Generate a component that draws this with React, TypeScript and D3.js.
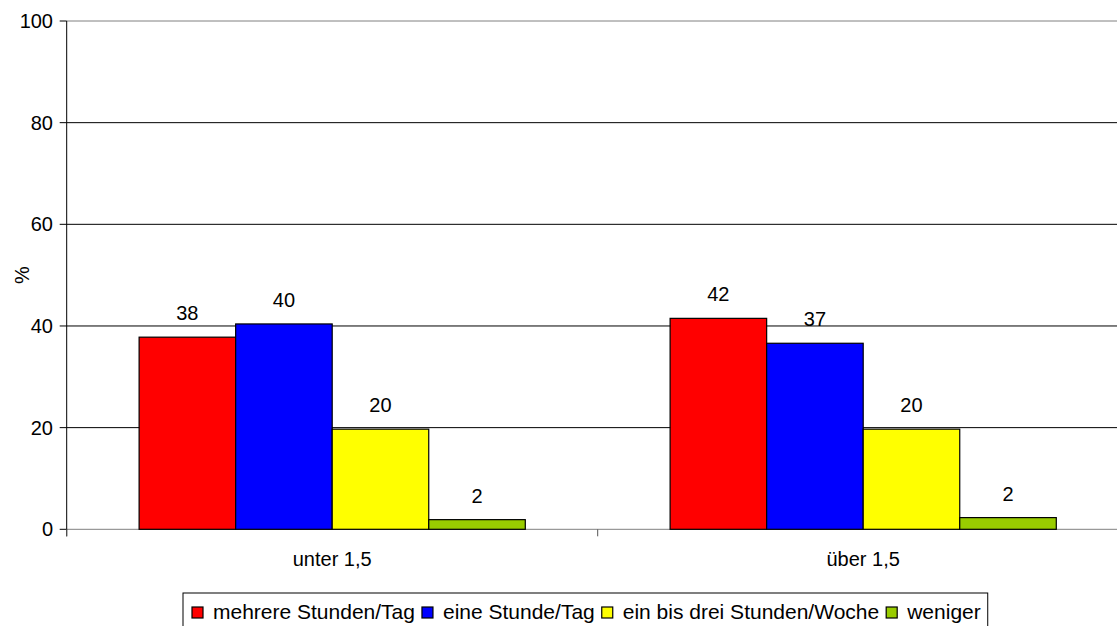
import React from "react";
import * as d3 from "d3";

const categories = ["unter 1,5", "über 1,5"];
const seriesNames = [
  "mehrere Stunden/Tag",
  "eine Stunde/Tag",
  "ein bis drei Stunden/Woche",
  "weniger",
];
const seriesColors = ["#FF0000", "#0000FF", "#FFFF00", "#99CC00"];
const valuesUnter = [37.8, 40.4, 19.7, 1.9];
const valuesUeber = [41.5, 36.6, 19.7, 2.3];
const labelsUnter = ["38", "40", "20", "2"];
const labelsUeber = ["42", "37", "20", "2"];
const yTicks = [0, 20, 40, 60, 80, 100];

const W = 1117;
const H = 626;
const FONT = "'Liberation Sans', Arial, sans-serif";

export default function App() {
  const left = 66.7;
  const top = 21;
  const bottom = 529.3;
  const y = d3.scaleLinear().domain([0, 100]).range([bottom, top]);
  const x = d3.scaleBand().domain(categories).range([left, left + 2 * 531]).paddingInner(0).paddingOuter(0);
  const xs = d3
    .scaleBand()
    .domain(seriesNames)
    .range([0, x.bandwidth()])
    .paddingInner(0)
    .paddingOuter(0.75);

  const data = [
    { cat: categories[0], vals: valuesUnter, labels: labelsUnter },
    { cat: categories[1], vals: valuesUeber, labels: labelsUeber },
  ];

  const legendX = 183;
  const legendY = 593;
  const legendFont = 21;
  const measure = (s: string) => {
    const c = document.createElement("canvas").getContext("2d")!;
    c.font = `${legendFont}px ${FONT}`;
    return c.measureText(s).width;
  };
  let cx = legendX + 9;
  const legendItems = seriesNames.map((n, i) => {
    const item = { x: cx, name: n, color: seriesColors[i] };
    cx += 11 + 10 + measure(n) + 7;
    return item;
  });
  const legendW = cx - legendX;

  return (
    <svg
      width={W}
      height={H}
      style={{ position: "absolute", left: 0, top: 0, background: "#fff" }}
      fontFamily={FONT}
    >
      {yTicks.map((t) => (
        <line
          key={t}
          x1={left}
          x2={W}
          y1={y(t)}
          y2={y(t)}
          stroke={t === 100 || t === 0 ? "#808080" : "#000"}
          strokeWidth={1}
        />
      ))}
      <line x1={left} x2={left} y1={top} y2={bottom + 7} stroke="#000" />
      {yTicks.map((t) => (
        <g key={"yt" + t}>
          <line x1={left - 7} x2={left} y1={y(t)} y2={y(t)} stroke="#000" />
          <text x={53} y={y(t)} dy="0.35em" textAnchor="end" fontSize={20} fill="#000">
            {t}
          </text>
        </g>
      ))}
      <text
        transform={`translate(29, ${y(50)}) rotate(-90)`}
        textAnchor="middle"
        fontSize={20}
        fill="#000"
      >
        %
      </text>
      {[...categories.map((c) => x(c)!), x(categories[1])! + x.bandwidth()].map((v, i) => (
        <line key={"xt" + i} x1={v} x2={v} y1={bottom} y2={bottom + 7} stroke="#555" />
      ))}
      {categories.map((c) => (
        <text
          key={"xl" + c}
          x={x(c)! + x.bandwidth() / 2}
          y={566}
          textAnchor="middle"
          fontSize={20}
          fill="#000"
        >
          {c}
        </text>
      ))}
      {data.map((g) =>
        g.vals.map((v, i) => {
          const bx = x(g.cat)! + xs(seriesNames[i])!;
          return (
            <g key={g.cat + i}>
              <rect
                x={bx}
                y={y(v)}
                width={xs.bandwidth()}
                height={bottom - y(v)}
                fill={seriesColors[i]}
                stroke="#000"
                strokeWidth={1.2}
              />
              <text
                x={bx + xs.bandwidth() / 2}
                y={y(v) - 17}
                textAnchor="middle"
                fontSize={20}
                fill="#000"
              >
                {g.labels[i]}
              </text>
            </g>
          );
        })
      )}
      <rect x={legendX} y={legendY} width={legendW} height={45} fill="#fff" stroke="#000" />
      {legendItems.map((it) => (
        <g key={it.name}>
          <rect x={it.x} y={607} width={11} height={11} fill={it.color} stroke="#000" strokeWidth={1.2} />
          <text x={it.x + 21} y={619} fontSize={legendFont} fill="#000">
            {it.name}
          </text>
        </g>
      ))}
    </svg>
  );
}
